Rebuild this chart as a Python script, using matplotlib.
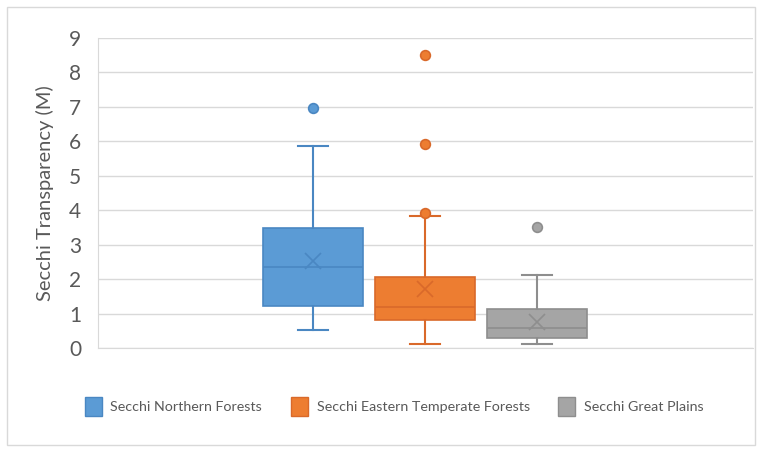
import matplotlib.pyplot as plt
from matplotlib.patches import Patch, Rectangle

plt.rcParams['font.family'] = ['Lato', 'DejaVu Sans']

# Box plot statistics
labels = ['Secchi Northern Forests', 'Secchi Eastern Temperate Forests', 'Secchi Great Plains']
whisker_low = [0.52, 0.12, 0.12]
q1 = [1.22, 0.82, 0.29]
medians = [2.35, 1.19, 0.57]
q3 = [3.47, 2.05, 1.12]
whisker_high = [5.87, 3.82, 2.12]
means = [2.52, 1.72, 0.75]
outliers = [[6.98], [8.5, 5.93, 3.92], [3.52]]

fill_colors = ['#5B9BD5', '#ED7D31', '#A5A5A5']
edge_colors = ['#4A87C2', '#D9692A', '#8E8E8E']

fig = plt.figure(figsize=(7.58, 4.49), dpi=100)
ax = fig.add_axes([0.129, 0.225, 0.864, 0.6904])

# light outer frame of the chart area
fig.patches.append(Rectangle((0.009, 0.009), 0.987, 0.975, transform=fig.transFigure,
                             fill=False, edgecolor='#D9D9D9', linewidth=1))

positions = [-1, 0, 1]
for i in range(3):
    stats = [{
        'whislo': whisker_low[i], 'q1': q1[i], 'med': medians[i], 'q3': q3[i],
        'whishi': whisker_high[i], 'mean': means[i], 'fliers': outliers[i], 'label': labels[i],
    }]
    ec = edge_colors[i]
    ax.bxp(stats, positions=[positions[i]], widths=0.89, patch_artist=True,
           showmeans=True, manage_ticks=False,
           boxprops=dict(facecolor=fill_colors[i], edgecolor=ec, linewidth=1.2),
           medianprops=dict(color=ec, linewidth=1.2),
           whiskerprops=dict(color=ec, linewidth=1.5),
           capprops=dict(color=ec, linewidth=1.5),
           capwidths=0.27,
           meanprops=dict(marker='x', markeredgecolor=ec, markersize=12, markeredgewidth=1.2),
           flierprops=dict(marker='o', markerfacecolor=fill_colors[i], markeredgecolor=ec,
                           markersize=7, markeredgewidth=1.2))

ax.set_xlim(-2.925, 2.925)
ax.set_ylim(0, 9)
ax.set_yticks(range(10))
ax.set_xticks([])
ax.grid(axis='y', color='#D9D9D9', linewidth=1)
ax.set_axisbelow(True)
for s in ['top', 'right']:
    ax.spines[s].set_visible(False)
ax.spines['left'].set_color('#D9D9D9')
ax.spines['bottom'].set_color('#D9D9D9')
ax.tick_params(axis='y', length=0, labelsize=15, labelcolor='#595959', pad=12)
ax.set_ylabel('Secchi Transparency (M)', fontsize=14.5, color='#595959', labelpad=11)

handles = [Patch(facecolor=fill_colors[i], edgecolor=edge_colors[i], label=labels[i]) for i in range(3)]
fig.legend(handles=handles, loc='center', bbox_to_anchor=(0.52, 0.095), ncol=3,
           frameon=False, fontsize=10.3, labelcolor='#595959', handlelength=1.2,
           handleheight=1.6, columnspacing=2.0, handletextpad=0.6)

fig.savefig('out.png', dpi=100)
